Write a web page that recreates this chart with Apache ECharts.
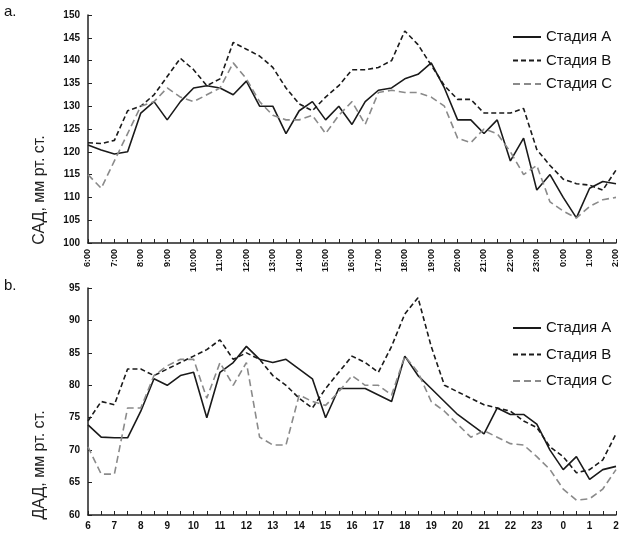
<!DOCTYPE html>
<html>
<head>
<meta charset="utf-8">
<script src="https://cdn.jsdelivr.net/npm/echarts@6/dist/echarts.min.js"></script>
<style>
html,body{margin:0;padding:0;background:#fff;}
#chart{width:628px;height:538px;}
</style>
</head>
<body>
<div id="chart"></div>
<script>
// Time categories (half-hour steps, labelled every hour)
var times = ['6:00','6:30','7:00','7:30','8:00','8:30','9:00','9:30','10:00','10:30','11:00','11:30','12:00','12:30','13:00','13:30','14:00','14:30','15:00','15:30','16:00','16:30','17:00','17:30','18:00','18:30','19:00','19:30','20:00','20:30','21:00','21:30','22:00','22:30','23:00','23:30','0:00','0:30','1:00','1:30','2:00'];
var seriesNames = ['Стадия A','Стадия B','Стадия C'];

// Panel a: САД (systolic)
var sadA = [121.5,120.4,119.5,120,128.5,131,127,131,134,134.5,134,132.5,135.5,130,130,124,129,131,127,130,126,131,133.5,134,136,137,139.5,134,127,127,124,127,118,123,111.6,115,110,105.5,112,113.5,113];
var sadB = [122,121.8,122.5,129,130,132.5,136.5,140.5,138,134.5,136,144,142.5,141,138.5,134,130.5,129,132,134.5,138,138,138.5,140,146.5,143.5,139,134.5,131.5,131.5,128.5,128.5,128.5,129.5,120.5,117,114,113,112.7,111.6,116];
var sadC = [115,112,118,124,130,131,134,132,131,132.5,134,139.5,136,131,128,127,127,128,124,128,131,126,133,133.5,133,133,132,130,123,122,125,124,120,115,117,109,107,105.5,108,109.5,110];

// Panel b: ДАД (diastolic)
var dadA = [73.9,72,71.9,71.9,76,81,80,81.5,82,75,82,83.5,86,84,83.5,84,82.5,81,75,79.5,79.5,79.5,78.5,77.5,84.5,81.5,79.5,77.5,75.5,74,72.5,76.5,75.5,75.5,74,70,67,69,65.5,67,67.5];
var dadB = [74.5,77.5,77,82.5,82.5,81.5,82.5,83.5,84.5,85.5,87,84,85,84,81.5,80,78,76.5,79.5,82,84.5,83.5,82,86,91,93.5,86,80,79,78,77,76.5,76,74.5,73.5,70.5,69,66.5,67,68.5,72.5];
var dadC = [70.5,66.3,66.3,76.5,76.5,81.5,83,84,84,78,83.5,80,83.5,72,70.8,70.8,78.5,77.5,76.9,79,81.5,80,80,78.5,84.5,82,77.5,76,74,72,73,72,71,70.8,69,67,64,62.3,62.5,64,67];

var chart = echarts.init(document.getElementById('chart'), null, {renderer:'canvas'});
var lbl = {fontFamily:'Liberation Sans, Arial, sans-serif', fontWeight:'bold', color:'#111'};
var axisLine = {lineStyle:{color:'#222', width:1.5}};
var styles = [
  {color:'#1a1a1a', width:1.6, type:'solid'},
  {color:'#1a1a1a', width:1.6, type:[5,3]},
  {color:'#8a8a8a', width:1.6, type:[7,4]}
];
function mk(name, data, idx, k){
  return {name:name, type:'line', data:data, xAxisIndex:idx, yAxisIndex:idx,
    showSymbol:false, symbol:'none', smooth:false, animation:false,
    lineStyle:styles[k], itemStyle:{color:styles[k].color}};
}
var legendText = {fontFamily:'Liberation Sans, Arial, sans-serif', fontSize:15, color:'#111', lineHeight:16};
var legendCommon = {data:seriesNames, orient:'vertical', left:507, itemWidth:28, itemHeight:14,
  textStyle:legendText, selectedMode:false, itemStyle:{opacity:0}};
var option = {
  animation:false,
  backgroundColor:'#fff',
  grid:[
    {left:88, top:15, width:528, height:228},
    {left:88, top:288, width:528, height:227}
  ],
  xAxis:[
    {type:'category', gridIndex:0, data:times, boundaryGap:false, axisLine:axisLine,
     axisTick:{inside:true, length:4, interval:0, lineStyle:{color:'#222'}},
     axisLabel:Object.assign({interval:1, rotate:90, fontSize:9, margin:6}, lbl), splitLine:{show:false}},
    {type:'category', gridIndex:1, data:times, boundaryGap:false, axisLine:axisLine,
     axisTick:{inside:true, length:4, interval:0, lineStyle:{color:'#222'}},
     axisLabel:Object.assign({interval:1, fontSize:10, margin:6, formatter:function(v){return v.split(':')[0];}}, lbl), splitLine:{show:false}}
  ],
  yAxis:[
    {type:'value', gridIndex:0, min:100, max:150, interval:5, axisLine:Object.assign({show:true},axisLine),
     axisTick:{show:true, inside:true, length:4, lineStyle:{color:'#222'}},
     axisLabel:Object.assign({fontSize:10, margin:8}, lbl), splitLine:{show:false}},
    {type:'value', gridIndex:1, min:60, max:95, interval:5, axisLine:Object.assign({show:true},axisLine),
     axisTick:{show:true, inside:true, length:4, lineStyle:{color:'#222'}},
     axisLabel:Object.assign({fontSize:10, margin:8}, lbl), splitLine:{show:false}}
  ],
  legend:[
    Object.assign({top:24, itemGap:7.5}, legendCommon),
    Object.assign({top:315, itemGap:10.5}, legendCommon)
  ],
  graphic:[
    {type:'text', left:4, top:4, style:{text:'a.', fontSize:15, fontFamily:'Liberation Sans, Arial, sans-serif', fill:'#111'}},
    {type:'text', left:4, top:278, style:{text:'b.', fontSize:15, fontFamily:'Liberation Sans, Arial, sans-serif', fill:'#111'}},
    {type:'text', x:40, y:190, rotation:Math.PI/2, style:{text:'САД, мм рт. ст.', fontSize:16, fontFamily:'Liberation Sans, Arial, sans-serif', fill:'#222', align:'center', verticalAlign:'middle'}},
    {type:'text', x:40, y:465, rotation:Math.PI/2, style:{text:'ДАД, мм рт. ст.', fontSize:16, fontFamily:'Liberation Sans, Arial, sans-serif', fill:'#222', align:'center', verticalAlign:'middle'}}
  ],
  series:[
    mk(seriesNames[0], sadA, 0, 0), mk(seriesNames[1], sadB, 0, 1), mk(seriesNames[2], sadC, 0, 2),
    mk(seriesNames[0], dadA, 1, 0), mk(seriesNames[1], dadB, 1, 1), mk(seriesNames[2], dadC, 1, 2)
  ]
};
chart.setOption(option);
</script>
</body>
</html>
